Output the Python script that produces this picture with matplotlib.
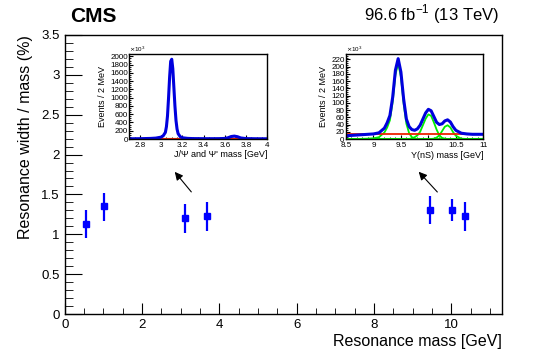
import matplotlib.pyplot as plt
from matplotlib.ticker import MultipleLocator, FormatStrFormatter

plt.rcParams['font.family'] = ['Liberation Sans', 'DejaVu Sans']

# Main plot data: resonance mass [GeV], width/mass [%], errors
mass = [0.55, 1.02, 3.10, 3.69, 9.46, 10.02, 10.36]
width = [1.125, 1.35, 1.20, 1.23, 1.305, 1.305, 1.225]
err_up = [0.175, 0.17, 0.18, 0.18, 0.175, 0.135, 0.185]
err_dn = [0.175, 0.18, 0.18, 0.19, 0.18, 0.135, 0.185]

# J/psi and psi' inset (events / 2 MeV, x10^3)
jpsi_x = [2.70, 2.80, 2.90, 2.95, 3.00, 3.02, 3.04, 3.05, 3.06, 3.07, 3.08, 3.09,
          3.10, 3.11, 3.12, 3.13, 3.14, 3.15, 3.16, 3.18, 3.20, 3.25, 3.30, 3.40,
          3.50, 3.55, 3.60, 3.63, 3.66, 3.69, 3.72, 3.75, 3.80, 3.90, 4.00]
jpsi_tot = [5, 8, 14, 22, 45, 80, 160, 300, 560, 1000, 1500, 1880,
            1930, 1700, 1250, 800, 450, 240, 130, 55, 30, 15, 10, 8,
            8, 9, 14, 30, 60, 70, 55, 25, 10, 6, 5]
jpsi_bkg_x = [2.70, 4.00]
jpsi_bkg = [10, 10]
jpsi_sig_x = [2.70, 4.00]
jpsi_sig = [0, 0]

# Upsilon inset (events / 2 MeV, x10^3)
ups_x = [8.5, 8.7, 8.9, 9.0, 9.1, 9.2, 9.25, 9.3, 9.35, 9.4, 9.45, 9.5, 9.55,
         9.6, 9.65, 9.7, 9.75, 9.8, 9.85, 9.9, 9.95, 10.0, 10.05, 10.1, 10.15,
         10.2, 10.25, 10.3, 10.35, 10.4, 10.45, 10.5, 10.6, 10.7, 10.8, 11.0]
ups_tot = [9, 11, 13, 14, 17, 30, 45, 65, 115, 190, 222, 185, 110,
           55, 34, 26, 24, 28, 38, 55, 72, 82, 78, 62, 46,
           40, 42, 50, 53, 47, 34, 24, 16, 14, 13, 13]
ups1_sig = [0, 0, 1, 2, 5, 18, 32, 52, 102, 177, 210, 172, 97,
            42, 16, 5, 1, 0, 0, 0, 0, 0, 0, 0, 0,
            0, 0, 0, 0, 0, 0, 0, 0, 0, 0, 0]
ups2_sig = [0, 0, 0, 0, 0, 0, 0, 0, 0, 0, 0, 0, 0,
            0, 0, 2, 5, 10, 20, 38, 56, 68, 64, 46, 26,
            10, 3, 1, 0, 0, 0, 0, 0, 0, 0, 0]
ups3_sig = [0, 0, 0, 0, 0, 0, 0, 0, 0, 0, 0, 0, 0,
            0, 0, 0, 0, 0, 0, 0, 0, 0, 0, 1, 4,
            10, 22, 34, 38, 32, 19, 9, 1, 0, 0, 0]
ups_bkg_x = [8.5, 11.0]
ups_bkg = [13, 13]

fig = plt.figure(figsize=(5.4, 3.49), dpi=100)
ax = fig.add_axes([0.120, 0.100, 0.810, 0.800])

ax.errorbar(mass, width, yerr=[err_dn, err_up], fmt='s', color='#0000ff',
            ms=5, elinewidth=1.6, capsize=0)
ax.set_xlim(0, 11.32)
ax.set_ylim(0, 3.5)
ax.xaxis.set_major_locator(MultipleLocator(2))
ax.xaxis.set_minor_locator(MultipleLocator(0.5))
ax.yaxis.set_major_locator(MultipleLocator(0.5))
ax.yaxis.set_minor_locator(MultipleLocator(0.1))
ax.yaxis.set_major_formatter(FormatStrFormatter('%g'))
ax.tick_params(which='both', direction='in', top=False, right=False, labelsize=9.5)
ax.tick_params(which='major', axis='x', length=8)
ax.tick_params(which='minor', axis='x', length=4)
ax.tick_params(which='major', axis='y', length=12)
ax.tick_params(which='minor', axis='y', length=6)
ax.set_xlabel('Resonance mass [GeV]', fontsize=11.5, loc='right', labelpad=2)
ax.set_ylabel('Resonance width / mass (%)', fontsize=11.5, loc='top', labelpad=6)
for s in ax.spines.values():
    s.set_linewidth(1.0)

ax.annotate('', xy=(2.80, 1.81), xytext=(3.32, 1.505),
            arrowprops=dict(arrowstyle='-|>', color='black', lw=0.8, mutation_scale=12))
ax.annotate('', xy=(9.11, 1.81), xytext=(9.69, 1.505),
            arrowprops=dict(arrowstyle='-|>', color='black', lw=0.8, mutation_scale=12))

fig.text(0.130, 0.925, 'CMS', fontsize=15, fontweight='bold', ha='left', va='bottom')
fig.text(0.925, 0.925, r'96.6 fb$^{\mathregular{-1}}$ (13 TeV)', fontsize=12,
         ha='right', va='bottom')

# Inset 1: J/psi and psi'
a1 = fig.add_axes([0.2394, 0.6017, 0.2556, 0.2427])
a1.plot(jpsi_sig_x, jpsi_sig, color='#00ee00', lw=1.5)
a1.plot(jpsi_bkg_x, jpsi_bkg, color='#ee2200', lw=1.5)
a1.plot(jpsi_x, jpsi_tot, color='#0000dd', lw=2.2)
a1.set_xlim(2.7, 4.0)
a1.set_ylim(0, 2050)
a1.xaxis.set_major_locator(MultipleLocator(0.2))
a1.xaxis.set_minor_locator(MultipleLocator(0.05))
a1.yaxis.set_major_locator(MultipleLocator(200))
a1.yaxis.set_minor_locator(MultipleLocator(50))
a1.xaxis.set_major_formatter(FormatStrFormatter('%g'))
a1.tick_params(which='both', direction='in', labelsize=5.8, pad=1)
a1.tick_params(axis='x', which='both', pad=2)
a1.tick_params(which='major', length=3)
a1.tick_params(which='minor', length=1.5)
a1.set_xlabel("J/\u03a8 and \u03a8' mass [GeV]", fontsize=6.5, loc='right', labelpad=1)
a1.set_ylabel('Events / 2 MeV', fontsize=6.5, labelpad=2)
a1.text(0.0, 1.0, r'$\times$10$^{\mathregular{3}}$', transform=a1.transAxes,
        fontsize=4.5, ha='left', va='bottom')
for s in a1.spines.values():
    s.set_linewidth(1.0)

# Inset 2: Upsilon(nS)
a2 = fig.add_axes([0.6407, 0.6017, 0.2543, 0.2427])
a2.plot(ups_x, ups1_sig, color='#00ee00', lw=1.3)
a2.plot(ups_x, ups2_sig, color='#00ee00', lw=1.3)
a2.plot(ups_x, ups3_sig, color='#00ee00', lw=1.3)
a2.plot(ups_bkg_x, ups_bkg, color='#ee2200', lw=1.3)
a2.plot(ups_x, ups_tot, color='#0000dd', lw=2.2)
a2.set_xlim(8.5, 11.0)
a2.set_ylim(0, 234)
a2.xaxis.set_major_locator(MultipleLocator(0.5))
a2.xaxis.set_minor_locator(MultipleLocator(0.1))
a2.yaxis.set_major_locator(MultipleLocator(20))
a2.yaxis.set_minor_locator(MultipleLocator(5))
a2.xaxis.set_major_formatter(FormatStrFormatter('%g'))
a2.tick_params(which='both', direction='in', labelsize=5.8, pad=1)
a2.tick_params(axis='x', which='both', pad=2.5)
a2.tick_params(which='major', length=3)
a2.tick_params(which='minor', length=1.5)
a2.set_xlabel('\u03a5(nS) mass [GeV]', fontsize=6.5, loc='right', labelpad=1)
a2.set_ylabel('Events / 2 MeV', fontsize=6.5, labelpad=2)
a2.text(0.0, 1.0, r'$\times$10$^{\mathregular{3}}$', transform=a2.transAxes,
        fontsize=4.5, ha='left', va='bottom')
for s in a2.spines.values():
    s.set_linewidth(1.0)

fig.savefig('out.png', dpi=100)
